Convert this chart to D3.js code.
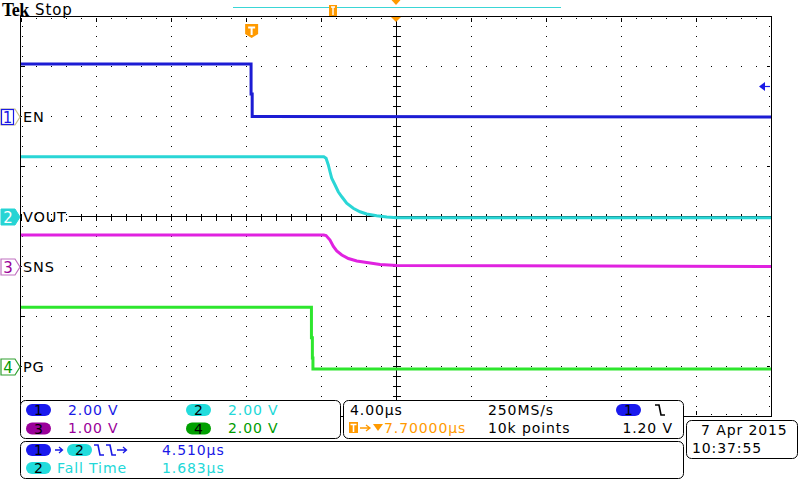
<!DOCTYPE html>
<html>
<head>
<meta charset="utf-8">
<script src="https://cdn.jsdelivr.net/npm/d3@7"></script>
<style>
html,body{margin:0;padding:0;background:#fff;}
svg{display:block;}
text{font-family:"DejaVu Sans",sans-serif;}
</style>
</head>
<body>
<svg id="c" width="800" height="480"></svg>
<script>
// ---------- DATA ----------
const timeDomain = [-12.3, 27.7];          // µs shown (4 µs/div, trigger delay 7.7 µs)
const channelNames = ["EN", "VOUT", "SNS", "PG"];
const voltsPerDiv = [2, 2, 1, 2];
const groundDiv = [2, 0, -1, -3];          // channel offset in divisions
// EN (ch1)
const enT = [-12.3, -0.03, -0.03, 0.03, 0.03, 27.7];
const enV = [2.1, 2.1, 0.9, 0.9, 0.0, -0.02];
// VOUT (ch2)
const voutT = [-12.3, 3.85, 3.97, 4.09, 4.18, 4.27, 4.45, 4.62, 4.81, 5.07, 5.42, 5.78, 6.14, 6.67, 7.21, 7.74, 27.7];
const voutV = [2.39, 2.39, 2.33, 2.06, 1.79, 1.53, 1.26, 0.99, 0.79, 0.53, 0.33, 0.19, 0.10, 0.03, -0.02, -0.05, -0.05];
// SNS (ch3)
const snsT = [-12.3, 3.85, 3.97, 4.18, 4.36, 4.54, 4.81, 5.16, 5.61, 6.14, 6.85, 7.74, 27.7];
const snsV = [0.63, 0.63, 0.62, 0.53, 0.40, 0.31, 0.23, 0.16, 0.11, 0.08, 0.04, 0.02, 0.0];
// PG (ch4)
const pgT = [-12.3, 3.19, 3.19, 3.24, 3.24, 3.27, 3.27, 27.7];
const pgV = [2.37, 2.37, 1.15, 1.15, 0.34, 0.34, -0.10, -0.10];
const triggerLevel = 1.20;
const triggerDelay = 7.7;
// readout texts
const scaleLabels = ["2.00 V", "2.00 V", "1.00 V", "2.00 V"];
const timebaseLabel = "4.00µs";
const sampleRateLabel = "250MS/s";
const delayLabel = "7.70000µs";
const recordLabel = "10k points";
const trigLevelLabel = "1.20 V";
const measLabels = ["4.510µs", "1.683µs"];
const measName = "Fall Time";
const dateLabel = "7 Apr 2015";
const timeLabel = "10:37:55";

// ---------- STYLE ----------
const traceColors = ["#1c1cd4", "#2ad6d6", "#e022e0", "#2ee62e"];
const textColors = ["#1a1ae6", "#22d8d8", "#990099", "#009c00"];
const pillColors = ["#1a1aee", "#22dcdc", "#9a009a", "#00a000"];
const orange = "#ff9a00";

const svg = d3.select("#c");
const L = 21, R = 771, T = 16.5, B = 416.5;
const x = d3.scaleLinear().domain(timeDomain).range([L, R]);
const gridY = d3.scaleLinear().domain([-4, 4]).range([B, T]);
const chY = voltsPerDiv.map((vd, i) =>
  d3.scaleLinear().domain([(-4 - groundDiv[i]) * vd, (4 - groundDiv[i]) * vd]).range([B, T]));

// ---------- GRID ----------
const g = svg.append("g").attr("shape-rendering", "crispEdges");
const divX = d3.range(0, 11).map(k => timeDomain[0] + k * 4);
const divY = d3.range(-4, 5);
divY.forEach(d => {
  if (d === -4 || d === 4 || d === 0) return;
  const yy = Math.floor(gridY(d));
  d3.range(0, 51).forEach(j => {
    g.append("rect").attr("x", L + j * 15).attr("y", yy).attr("width", 1).attr("height", 1).attr("fill", "#000");
  });
});
divX.forEach((t, k) => {
  if (k === 0 || k === 10 || k === 5) return;
  const xx = Math.round(x(t));
  d3.range(0, 41).forEach(j => {
    g.append("rect").attr("x", xx).attr("y", 16 + j * 10).attr("width", 1).attr("height", 1).attr("fill", "#000");
  });
});
const cx = Math.round(x(timeDomain[0] + 20)) + 0.5;
const cy = Math.floor(gridY(0)) + 0.5;
g.append("line").attr("x1", L).attr("x2", R).attr("y1", cy).attr("y2", cy).attr("stroke", "#000");
g.append("line").attr("x1", cx).attr("x2", cx).attr("y1", 16).attr("y2", 416).attr("stroke", "#000");
d3.range(0, 51).forEach(j => {
  const xx = L + j * 15 + 0.5;
  g.append("line").attr("x1", xx).attr("x2", xx).attr("y1", cy - 3).attr("y2", cy + 4).attr("stroke", "#000");
});
d3.range(0, 41).forEach(j => {
  const yy = 16 + j * 10 + 0.5;
  g.append("line").attr("x1", cx - 4).attr("x2", cx + 4).attr("y1", yy).attr("y2", yy).attr("stroke", "#000");
});
d3.range(0, 41).forEach(j => {
  const yy = 16 + j * 10;
  const len = (j % 5 === 0) ? 3 : 1;
  g.append("rect").attr("x", L + 1).attr("y", yy).attr("width", len).attr("height", 1).attr("fill", "#000");
  g.append("rect").attr("x", R - 2 - len + 1).attr("y", yy).attr("width", len).attr("height", 1).attr("fill", "#000");
});
d3.range(0, 51).forEach(j => {
  const xx = L + j * 15;
  const len = (j % 5 === 0) ? 4 : 1;
  g.append("rect").attr("x", xx).attr("y", 18).attr("width", 1).attr("height", len).attr("fill", "#000");
  g.append("rect").attr("x", xx).attr("y", 414 - len + 1).attr("width", 1).attr("height", len).attr("fill", "#000");
});
g.append("rect").attr("x", 20.5).attr("y", 16.5).attr("width", R - 20).attr("height", 400)
  .attr("fill", "none").attr("stroke", "#000");

// ---------- TRACES ----------
svg.append("clipPath").attr("id", "plot").append("rect").attr("x", L).attr("y", 17).attr("width", R - L).attr("height", 399);
const traces = [[enT, enV], [voutT, voutV], [snsT, snsV], [pgT, pgV]];
const tg = svg.append("g").attr("clip-path", "url(#plot)");
traces.forEach(([ts, vs], i) => {
  const pts = ts.map((t, k) => [t, vs[k]]);
  const line = d3.line().x(d => x(d[0])).y(d => chY[i](d[1]));
  tg.append("path").attr("d", line(pts)).attr("fill", "none")
    .attr("stroke", traceColors[i]).attr("stroke-width", 3).attr("stroke-linejoin", "miter");
});

// ---------- CHANNEL MARKERS + LABELS ----------
channelNames.forEach((name, i) => {
  const gy = Math.round(chY[i](0));
  const m = svg.append("g");
  const pent = `M1,${gy - 8} H15 L20,${gy} L15,${gy + 8} H1 Z`;
  if (i === 0) {
    m.append("path").attr("d", pent).attr("fill", "#fff").attr("stroke", "#c8c08a").attr("stroke-width", 1.2);
    m.append("rect").attr("x", 1.5).attr("y", gy - 7.5).attr("width", 12).attr("height", 15).attr("fill", "none").attr("stroke", textColors[0]).attr("stroke-width", 1.2);
    m.append("text").attr("x", 7.5).attr("y", gy + 5.5).attr("text-anchor", "middle").attr("font-size", 15).attr("fill", textColors[0]).text("1");
  } else if (i === 1) {
    m.append("path").attr("d", pent).attr("fill", "#26d4d4").attr("stroke", "#26d4d4");
    m.append("text").attr("x", 8).attr("y", gy + 5.5).attr("text-anchor", "middle").attr("font-size", 15).attr("fill", "#fff").text("2");
  } else {
    const sc = i === 2 ? "#c070c0" : "#30a030";
    m.append("path").attr("d", pent).attr("fill", "#fff").attr("stroke", sc).attr("stroke-width", 1.2);
    m.append("text").attr("x", 8).attr("y", gy + 5.5).attr("text-anchor", "middle").attr("font-size", 15).attr("fill", textColors[i]).text(String(i + 1));
  }
  const lg = svg.append("g");
  const bg = lg.append("rect").attr("x", 22).attr("y", gy - 2).attr("height", 4).attr("fill", "#fff");
  const lbl = lg.append("text").attr("x", 23).attr("y", gy + 5).attr("font-size", 14.5).attr("letter-spacing", 0.8).attr("fill", "#000").text(name);
  bg.attr("width", lbl.node().getComputedTextLength() + 3);
});

// ---------- TOP INDICATORS ----------
svg.append("text").attr("x", 2).attr("y", 16).style("font-family", "'Liberation Serif', 'DejaVu Serif', serif").style("font-weight", "bold")
  .attr("font-size", 18).attr("letter-spacing", -0.5).attr("fill", "#000").text("Tek");
svg.append("text").attr("x", 35).attr("y", 14.5).attr("font-size", 15).attr("letter-spacing", 0.9).attr("fill", "#000").text("Stop");
svg.append("line").attr("x1", 233).attr("x2", 561).attr("y1", 7.5).attr("y2", 7.5).attr("stroke", "#3ad6d6").attr("stroke-width", 1.2);
svg.append("rect").attr("x", 329).attr("y", 5).attr("width", 8).attr("height", 11).attr("fill", orange);
svg.append("path").attr("d", "M331,7 H335 M333,7 V15").attr("stroke", "#fff").attr("stroke-width", 1.4);
const tx = x(0);
svg.append("path").attr("d", `M${tx - 6.5},24 H${tx + 6.5} V34 L${tx},38 L${tx - 6.5},34 Z`).attr("fill", orange);
svg.append("path").attr("d", `M${tx - 3.5},27.5 H${tx + 3.5} M${tx},27.5 V35`).attr("stroke", "#fff").attr("stroke-width", 2);
const ex = x(triggerDelay);
svg.append("path").attr("d", `M${ex - 4.5},0 H${ex + 4.5} L${ex},5 Z`).attr("fill", orange);
svg.append("path").attr("d", `M${ex - 5},17 H${ex + 5} L${ex},22 Z`).attr("fill", orange);
const ty = chY[0](triggerLevel);
svg.append("path").attr("d", `M759,${ty} L765,${ty - 4.5} L765,${ty + 4.5} Z`).attr("fill", textColors[0]);
svg.append("line").attr("x1", 764).attr("x2", 770).attr("y1", ty).attr("y2", ty).attr("stroke", textColors[0]).attr("stroke-width", 1.2);

// ---------- READOUT BOXES ----------
function box(x0, y0, w, h) {
  svg.append("rect").attr("x", x0 + 0.5).attr("y", y0 + 0.5).attr("width", w).attr("height", h)
    .attr("rx", 5).attr("fill", "#fff").attr("stroke", "#000").attr("stroke-width", 1);
}
function pill(cx0, cy0, num, fill, w) {
  w = w || 25;
  svg.append("rect").attr("x", cx0 - w / 2).attr("y", cy0 - 6).attr("width", w).attr("height", 12).attr("rx", 6).attr("fill", fill);
  svg.append("text").attr("x", cx0).attr("y", cy0 + 5).attr("text-anchor", "middle").attr("font-size", 14).attr("fill", "#000").text(num);
}
function txt(x0, y0, s, color, anchor) {
  return svg.append("text").attr("x", x0).attr("y", y0).attr("font-size", 14).attr("letter-spacing", 0.9)
    .attr("fill", color).attr("text-anchor", anchor || "start").text(s);
}
function fallEdge(x0, yc, color) {
  svg.append("path").attr("d", `M${x0},${yc - 5} H${x0 + 4} L${x0 + 6},${yc + 5} H${x0 + 10}`)
    .attr("fill", "none").attr("stroke", color).attr("stroke-width", 1.6);
}
box(20, 400, 320, 38);
box(343, 400, 340, 38);
box(20, 441, 663, 37);
box(686, 420, 111, 38);
pill(38.5, 410, "1", pillColors[0]);
txt(68, 415, scaleLabels[0], textColors[0]);
pill(198.5, 410, "2", pillColors[1]);
txt(228, 415, scaleLabels[1], textColors[1]);
pill(38.5, 428.5, "3", pillColors[2]);
txt(68, 433, scaleLabels[2], textColors[2]);
pill(198.5, 428.5, "4", pillColors[3]);
txt(228, 433, scaleLabels[3], textColors[3]);
txt(350, 415, timebaseLabel, "#000");
txt(488, 415, sampleRateLabel, "#000");
pill(628.5, 410, "1", pillColors[0]);
fallEdge(655, 410, "#000");
svg.append("rect").attr("x", 349).attr("y", 422).attr("width", 9).attr("height", 11).attr("fill", orange);
svg.append("path").attr("d", "M350.5,424.5 H356.5 M353.5,424.5 V432").attr("stroke", "#fff").attr("stroke-width", 1.6);
svg.append("path").attr("d", "M360,428 H369 M366,425 L370,428 L366,431").attr("fill", "none").attr("stroke", orange).attr("stroke-width", 1.3);
svg.append("path").attr("d", "M373,424 H383 L378,431 Z").attr("fill", orange);
txt(384, 433, delayLabel, orange);
txt(488, 433, recordLabel, "#000");
txt(673, 433, trigLevelLabel, "#000", "end");
pill(38.5, 450, "1", pillColors[0]);
svg.append("path").attr("d", "M55,450 H62 M59,447 L62.5,450 L59,453").attr("fill", "none").attr("stroke", textColors[0]).attr("stroke-width", 1.3);
pill(79.5, 450, "2", pillColors[1]);
fallEdge(94, 450, textColors[0]);
fallEdge(106, 450, textColors[0]);
svg.append("path").attr("d", "M117,450 H126 M123,447 L126.5,450 L123,453").attr("fill", "none").attr("stroke", textColors[0]).attr("stroke-width", 1.3);
txt(162, 455, measLabels[0], textColors[0]);
pill(38.5, 468, "2", pillColors[1]);
txt(57, 473, measName, textColors[1]);
txt(162, 473, measLabels[1], textColors[1]);
txt(701, 435, dateLabel, "#000");
txt(692, 453, timeLabel, "#000");
</script>
</body>
</html>
